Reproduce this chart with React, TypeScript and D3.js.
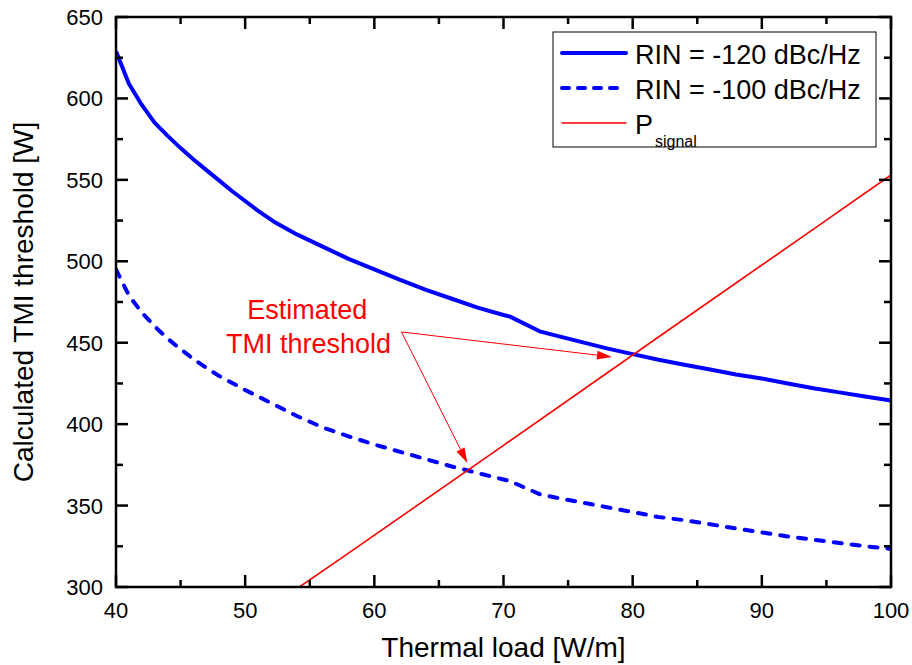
import React, { useEffect, useRef } from "react";
import * as d3 from "d3";

// RIN = -120 dBc/Hz (solid)
const rin120X = [40, 41, 42, 43, 44, 45, 46, 47, 48, 49, 50, 51, 52.2, 54, 56, 58, 60, 62, 64, 66, 68, 70, 70.5, 72.8, 74, 76, 78, 80, 82, 84, 86, 88, 90, 92, 94, 96, 98, 100];
const rin120Y = [629, 609, 596, 585, 577, 569.5, 562.5, 556, 549.5, 543, 537, 531, 524.5, 516.5, 509, 501.5, 495, 488.6, 482.5, 477, 471.5, 467, 466, 457, 454.5, 450.5, 446.5, 443, 439.5, 436.5, 433.5, 430.5, 428, 425, 422, 419.5, 417, 414.5];

// RIN = -100 dBc/Hz (dashed)
const rin100X = [40, 41, 42, 43, 44, 45, 46, 47, 48, 50, 52, 54, 56, 58, 60, 62, 64, 66, 68, 70, 70.5, 72.8, 74, 76, 78, 80, 82, 84, 86, 88, 90, 92, 94, 96, 98, 100];
const rin100Y = [495, 479, 468.5, 460, 452.5, 446, 440, 434.5, 429.5, 421, 413, 405, 398, 392.5, 387.5, 383, 378.5, 374, 370, 366, 365, 357, 355, 352, 349, 346, 343, 341, 338.5, 336, 333.5, 331, 329, 327, 325, 323.5];

// P_signal
const pSigX = [54.2, 57.5, 70, 82, 94.5, 100];
const pSigY = [300, 318, 387, 453.5, 522.5, 553];

const xTicks = [40, 50, 60, 70, 80, 90, 100];
const yTicks = [300, 350, 400, 450, 500, 550, 600, 650];

// annotation: arrow start and arrow tips (data coords)
const annoFrom = [62.1, 456.6];
const annoTips = [
  [78.4, 441.3],
  [67.2, 376.2],
];

const FONT = "'Liberation Sans', Arial, sans-serif";

function App() {
  const svgRef = useRef<SVGSVGElement>(null);
  const width = 912;
  const height = 665;

  useEffect(() => {
    const svg = d3.select(svgRef.current);
    svg.selectAll("*").remove();

    const margin = { top: 17, right: 21, bottom: 78, left: 116 };
    const x = d3.scaleLinear().domain([40, 100]).range([margin.left, width - margin.right]);
    const y = d3.scaleLinear().domain([300, 650]).range([height - margin.bottom, margin.top]);

    const line = d3
      .line<[number, number]>()
      .x((d) => x(d[0]))
      .y((d) => y(d[1]));

    svg
      .append("clipPath")
      .attr("id", "plot-clip")
      .append("rect")
      .attr("x", margin.left)
      .attr("y", margin.top)
      .attr("width", width - margin.left - margin.right)
      .attr("height", height - margin.top - margin.bottom);

    const plot = svg.append("g").attr("clip-path", "url(#plot-clip)");

    // dashed curve
    plot
      .append("path")
      .datum(rin100X.map((v, i) => [v, rin100Y[i]] as [number, number]))
      .attr("fill", "none")
      .attr("stroke", "#0000ff")
      .attr("stroke-width", 4)
      .attr("stroke-linecap", "round")
      .attr("stroke-linejoin", "round")
      .attr("stroke-dasharray", "8,10")
      .attr("d", line);

    // solid curve
    plot
      .append("path")
      .datum(rin120X.map((v, i) => [v, rin120Y[i]] as [number, number]))
      .attr("fill", "none")
      .attr("stroke", "#0000ff")
      .attr("stroke-width", 4)
      .attr("stroke-linejoin", "round")
      .attr("d", line);

    // red signal line
    plot
      .append("path")
      .datum(pSigX.map((v, i) => [v, pSigY[i]] as [number, number]))
      .attr("fill", "none")
      .attr("stroke", "#ff0000")
      .attr("stroke-width", 1.6)
      .attr("d", line);

    // axes with inward ticks on all four sides
    const x0 = x.range()[0];
    const x1 = x.range()[1];
    const y0 = y.range()[0];
    const y1 = y.range()[1];
    const axes = svg.append("g").attr("stroke", "#000").attr("stroke-width", 2.5);
    axes
      .append("rect")
      .attr("x", x0)
      .attr("y", y1)
      .attr("width", x1 - x0)
      .attr("height", y0 - y1)
      .attr("fill", "none");

    const xMinor = d3.range(45, 100, 10);
    const yMinor = d3.range(325, 650, 50);
    const tick = (ax: number, ay: number, bx: number, by: number) =>
      axes.append("line").attr("x1", ax).attr("y1", ay).attr("x2", bx).attr("y2", by);

    xTicks.forEach((t) => {
      tick(x(t), y0, x(t), y0 - 12);
      tick(x(t), y1, x(t), y1 + 12);
    });
    xMinor.forEach((t) => {
      tick(x(t), y0, x(t), y0 - 7);
      tick(x(t), y1, x(t), y1 + 7);
    });
    yTicks.forEach((t) => {
      tick(x0, y(t), x0 + 12, y(t));
      tick(x1, y(t), x1 - 12, y(t));
    });
    yMinor.forEach((t) => {
      tick(x0, y(t), x0 + 7, y(t));
      tick(x1, y(t), x1 - 7, y(t));
    });

    // tick labels
    svg
      .append("g")
      .selectAll("text")
      .data(xTicks)
      .join("text")
      .attr("x", (d) => x(d))
      .attr("y", y0 + 31)
      .attr("text-anchor", "middle")
      .style("font-family", FONT)
      .style("font-size", "22px")
      .text((d) => d);

    svg
      .append("g")
      .selectAll("text")
      .data(yTicks)
      .join("text")
      .attr("x", x0 - 13)
      .attr("y", (d) => y(d) + 8)
      .attr("text-anchor", "end")
      .style("font-family", FONT)
      .style("font-size", "22px")
      .text((d) => d);

    // axis titles
    svg
      .append("text")
      .attr("x", (x0 + x1) / 2)
      .attr("y", 657)
      .attr("text-anchor", "middle")
      .style("font-family", FONT)
      .style("font-size", "28px")
      .text("Thermal load [W/m]");

    svg
      .append("text")
      .attr("text-anchor", "middle")
      .attr("transform", `translate(33,${(y0 + y1) / 2})rotate(-90)`)
      .style("font-family", FONT)
      .style("font-size", "28px")
      .text("Calculated TMI threshold [W]");

    // annotation
    const anno = svg.append("g").attr("fill", "#ff0000");
    anno
      .append("text")
      .attr("x", x(54.8))
      .attr("y", y(464.6))
      .attr("text-anchor", "middle")
      .style("font-family", FONT)
      .style("font-size", "27px")
      .text("Estimated");
    anno
      .append("text")
      .attr("x", x(54.9))
      .attr("y", y(443.7))
      .attr("text-anchor", "middle")
      .style("font-family", FONT)
      .style("font-size", "27px")
      .text("TMI threshold");

    annoTips.forEach(([tx, ty]) => {
      const sx = x(annoFrom[0]);
      const sy = y(annoFrom[1]);
      const ex = x(tx);
      const ey = y(ty);
      const ang = Math.atan2(ey - sy, ex - sx);
      const headLen = 15;
      const headW = 4.5;
      const bx = ex - headLen * Math.cos(ang);
      const by = ey - headLen * Math.sin(ang);
      anno
        .append("line")
        .attr("x1", sx)
        .attr("y1", sy)
        .attr("x2", bx)
        .attr("y2", by)
        .attr("stroke", "#ff0000")
        .attr("stroke-width", 1);
      anno
        .append("polygon")
        .attr(
          "points",
          [
            [ex, ey],
            [bx + headW * Math.sin(ang), by - headW * Math.cos(ang)],
            [bx - headW * Math.sin(ang), by + headW * Math.cos(ang)],
          ]
            .map((p) => p.join(","))
            .join(" ")
        );
    });

    // legend
    const legend = svg.append("g").attr("transform", "translate(553,32)");
    legend
      .append("rect")
      .attr("width", 323)
      .attr("height", 115)
      .attr("fill", "#fff")
      .attr("stroke", "#000")
      .attr("stroke-width", 1);

    const items = [
      { label: "RIN = -120 dBc/Hz", color: "#0000ff", w: 4, dash: null, y: 21 },
      { label: "RIN = -100 dBc/Hz", color: "#0000ff", w: 4, dash: "7,9", y: 56 },
      { label: "P", color: "#ff0000", w: 1.6, dash: null, y: 91 },
    ];
    items.forEach((it) => {
      const l = legend
        .append("line")
        .attr("x1", 9)
        .attr("x2", 73)
        .attr("y1", it.y)
        .attr("y2", it.y)
        .attr("stroke", it.color)
        .attr("stroke-width", it.w)
        .attr("stroke-linecap", "round");
      if (it.dash) l.attr("stroke-dasharray", it.dash);
      const t = legend
        .append("text")
        .attr("x", 82)
        .attr("y", it.y + 11)
        .style("font-family", FONT)
        .style("font-size", "27px")
        .text(it.label);
      if (it.label === "P") {
        t.append("tspan")
          .attr("dy", 13)
          .attr("dx", 2)
          .style("font-size", "16px")
          .text("signal");
      }
    });
  }, []);

  return (
    <svg
      ref={svgRef}
      width={width}
      height={height}
      style={{ position: "absolute", left: 0, top: 0, background: "#fff" }}
    ></svg>
  );
}

export default App;
